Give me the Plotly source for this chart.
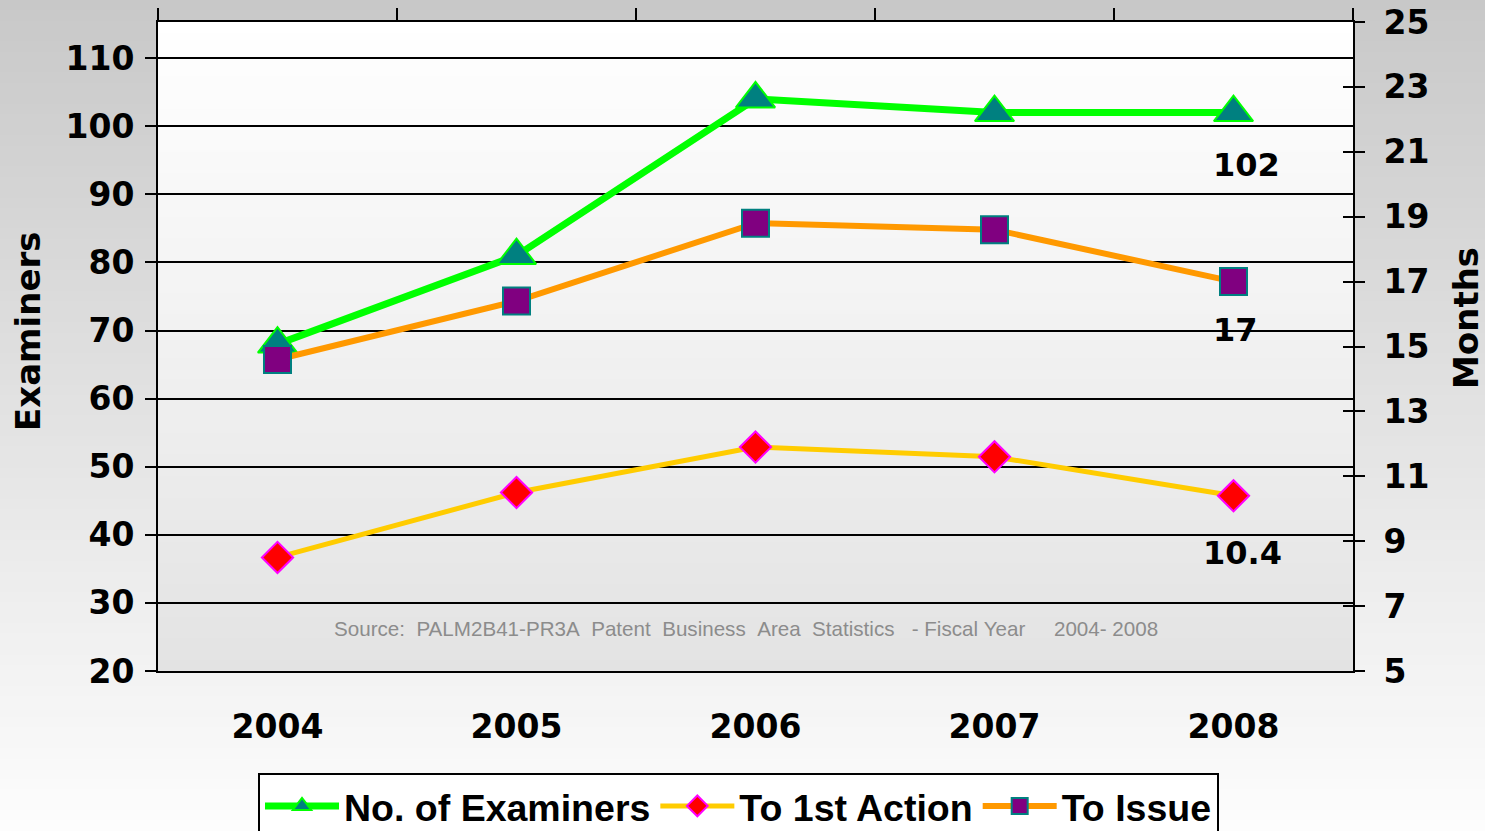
import plotly.graph_objects as go

years = ["2004", "2005", "2006", "2007", "2008"]
examiners = [68, 81, 104, 102, 102]
to_first_action = [8.5, 10.5, 11.9, 11.6, 10.4]
to_issue = [14.6, 16.4, 18.8, 18.6, 17.0]

left_ticks = [20, 30, 40, 50, 60, 70, 80, 90, 100, 110]
right_ticks = [5, 7, 9, 11, 13, 15, 17, 19, 21, 23, 25]
source_text = "Source:\u00a0\u00a0PALM2B41-PR3A\u00a0\u00a0Patent\u00a0\u00a0Business\u00a0\u00a0Area\u00a0\u00a0Statistics\u00a0\u00a0\u00a0-\u00a0Fiscal\u00a0Year\u00a0\u00a0\u00a0\u00a0\u00a02004-\u00a02008"

W, H = 1485, 831
L, R, T, B = 158, 1353, 22, 671
pw, ph = R - L, B - T

BOLD = dict(family="DejaVu Sans", weight="bold", color="black")

fig = go.Figure()

fig.add_trace(go.Scatter(
    x=years, y=examiners, name="No. of Examiners", mode="lines+markers",
    line=dict(color="#00FF00", width=7),
    marker=dict(symbol="triangle-up", size=34, color="#008080",
                line=dict(color="#00FF00", width=2)),
    yaxis="y"))
fig.add_trace(go.Scatter(
    x=years, y=to_first_action, name="To 1st Action", mode="lines+markers",
    line=dict(color="#FFCC00", width=5),
    marker=dict(symbol="diamond", size=24, color="#FF0000",
                line=dict(color="#FF00FF", width=2)),
    yaxis="y2"))
fig.add_trace(go.Scatter(
    x=years, y=to_issue, name="To Issue", mode="lines+markers",
    line=dict(color="#FF9900", width=6),
    marker=dict(symbol="square", size=27, color="#800080",
                line=dict(color="#008080", width=2)),
    yaxis="y2"))
# helper traces to show top axis and right inner ticks
fig.add_trace(go.Scatter(x=[0], y=[None], xaxis="x2", yaxis="y",
                         showlegend=False, hoverinfo="skip"))
fig.add_trace(go.Scatter(x=years[:1], y=[None], yaxis="y3",
                         showlegend=False, hoverinfo="skip"))

# gradient backgrounds
shapes = []
def lerp(a, b, t):
    return int(round(a + (b - a) * t))

n = 80
x0p, x1p = -L / pw, (W - L) / pw
for i in range(n):
    t = (i + 0.5) / n
    c = lerp(200, 253, t)
    ytop = i * H / n
    ybot = (i + 1) * H / n + 1
    shapes.append(dict(type="rect", xref="paper", yref="paper", layer="below",
                       x0=x0p, x1=x1p, y0=(B - ybot) / ph, y1=(B - ytop) / ph,
                       fillcolor=f"rgb({c},{c},{c})", line=dict(width=0)))
m = 60
for i in range(m):
    t = (i + 0.5) / m
    c = lerp(255, 227, t)
    shapes.append(dict(type="rect", xref="paper", yref="paper", layer="below",
                       x0=0, x1=1, y0=1 - (i + 1) / m - 0.002, y1=1 - i / m,
                       fillcolor=f"rgb({c},{c},{c})", line=dict(width=0)))

last = len(years) - 1
annotations = [
    dict(x=last, y=examiners[last], xref="x", yref="y", text=f"{examiners[last]:g}",
         showarrow=False, yshift=-52, xshift=13, font=dict(size=32, **BOLD)),
    dict(x=last, y=to_issue[last], xref="x", yref="y2", text=f"{to_issue[last]:g}",
         showarrow=False, yshift=-48, xshift=2, font=dict(size=32, **BOLD)),
    dict(x=last, y=to_first_action[last], xref="x", yref="y2", text=f"{to_first_action[last]:g}",
         showarrow=False, yshift=-57, xshift=9, font=dict(size=32, **BOLD)),
    dict(x=(746 - L) / pw, y=(B - 628) / ph, xref="paper", yref="paper",
         xanchor="center", yanchor="middle",
         text=source_text, showarrow=False,
         font=dict(family="Liberation Sans Narrow, Liberation Sans, Arial", size=20.6, color="#8C8C8C")),
    dict(x=(28 - L) / pw, y=(B - 332) / ph, xref="paper", yref="paper",
         xanchor="center", yanchor="middle",
         text="Examiners", textangle=-90, showarrow=False,
         font=dict(size=34, **BOLD)),
    dict(x=(1466 - L) / pw, y=(B - 318) / ph, xref="paper", yref="paper",
         xanchor="center", yanchor="middle",
         text="Months", textangle=-90, showarrow=False,
         font=dict(size=34, **BOLD)),
]

fig.update_layout(
    width=W, height=H,
    margin=dict(l=L, r=W - R, t=T, b=H - B, autoexpand=False),
    paper_bgcolor="white",
    plot_bgcolor="rgba(0,0,0,0)",
    shapes=shapes,
    annotations=annotations,
    showlegend=True,
    legend=dict(orientation="h", x=(258 - L) / pw, xanchor="left",
                y=(B - 773) / ph, yanchor="top",
                bgcolor="white", bordercolor="black", borderwidth=2,
                font=dict(family="Liberation Sans", size=37.5, weight="bold", color="black"),
                itemwidth=74),
    xaxis=dict(type="category", range=[-0.5, 4.5], showgrid=False,
               showline=True, linecolor="black", linewidth=2,
               ticks="", ticklabelstandoff=25,
               tickfont=dict(size=33, **BOLD)),
    xaxis2=dict(overlaying="x", side="top", range=[-0.5, 4.5],
                tickvals=[-0.5, 0.5, 1.5, 2.5, 3.5, 4.5],
                ticks="outside", ticklen=12, tickwidth=2, tickcolor="black",
                showline=True, linecolor="black", linewidth=2,
                showticklabels=False, showgrid=False, zeroline=False),
    yaxis=dict(range=[20, 115.3], tickvals=left_ticks,
               showgrid=True, gridcolor="black", gridwidth=2,
               showline=True, linecolor="black", linewidth=2,
               ticks="outside", ticklen=11, tickwidth=2, tickcolor="black",
               ticklabelstandoff=4, zeroline=False,
               tickfont=dict(size=33, **BOLD)),
    yaxis2=dict(overlaying="y", side="right", range=[5, 25], tickvals=right_ticks,
                showgrid=False, showline=True, linecolor="black", linewidth=2,
                ticks="outside", ticklen=10, tickwidth=2, tickcolor="black",
                ticklabelstandoff=12, zeroline=False,
                tickfont=dict(size=33, **BOLD)),
    yaxis3=dict(overlaying="y", side="right", range=[5, 25], tickvals=right_ticks,
                showgrid=False, showline=False,
                ticks="inside", ticklen=10, tickwidth=2, tickcolor="black",
                showticklabels=False, zeroline=False),
)

fig.write_html("out.html", config={"displayModeBar": False},
               post_script="document.body.style.margin='0';")
